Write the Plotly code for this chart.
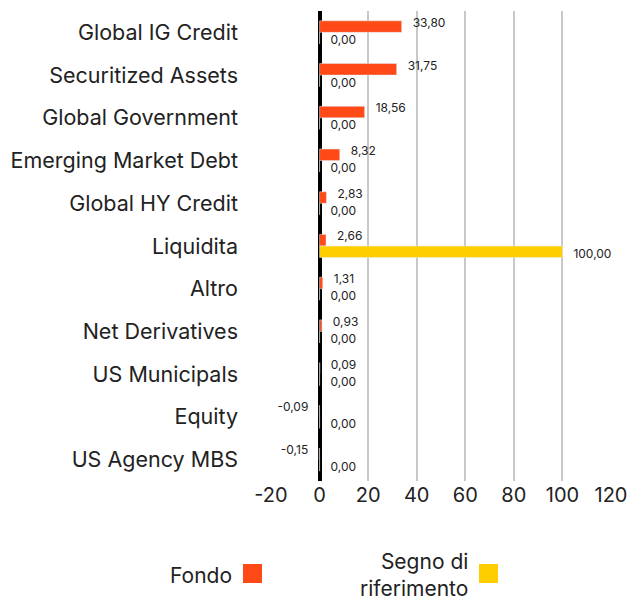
import plotly.graph_objects as go

categories = ["Global IG Credit", "Securitized Assets", "Global Government", "Emerging Market Debt",
              "Global HY Credit", "Liquidita", "Altro", "Net Derivatives", "US Municipals",
              "Equity", "US Agency MBS"]
fondo = [33.80, 31.75, 18.56, 8.32, 2.83, 2.66, 1.31, 0.93, 0.09, -0.09, -0.15]
benchmark = [0.00, 0.00, 0.00, 0.00, 0.00, 100.00, 0.00, 0.00, 0.00, 0.00, 0.00]
series_names = ["Fondo", "Segno di<br>riferimento"]
x_ticks = [-20, 0, 20, 40, 60, 80, 100, 120]
x_tick_labels = ["-20", "0", "20", "40", "60", "80", "100", "120"]

ORANGE = "#FF4A17"
YELLOW = "#FFCE00"
FONT = "Inter, Roboto, sans-serif"
TXT = "#222"


def fmt(v):
    return f"{v:.2f}".replace(".", ",")


pos = list(range(len(categories)))

fig = go.Figure()
fig.add_trace(go.Bar(y=pos, x=fondo, orientation="h", name=series_names[0],
                     marker_color=ORANGE, hoverinfo="x+name"))
fig.add_trace(go.Bar(y=pos, x=benchmark, orientation="h", name=series_names[1],
                     marker_color=YELLOW, hoverinfo="x+name"))

# value labels (placed just above / below the row centre, like the reference)
for vals, shift in ((fondo, -0.2), (benchmark, 0.2)):
    fig.add_trace(go.Scatter(
        y=[p + shift for p in pos], x=vals, mode="markers+text",
        text=[fmt(v) for v in vals],
        textposition=["middle left" if v < 0 else "middle right" for v in vals],
        marker=dict(size=16, opacity=0), textfont=dict(size=12, color=TXT),
        hoverinfo="skip", cliponaxis=False, showlegend=False))

L, R, T, B = 271, 19, 11, 119
W, H = 630, 600
pw, ph = W - L - R, H - T - B


def px(x):
    return (x - L) / pw


def py(y):
    return (H - B - y) / ph


# custom legend (text on the left of the swatch)
shapes = []
annotations = []
legend_items = [
    (series_names[0], ORANGE, 234, 243),
    (series_names[1], YELLOW, 470, 479),
]
for name, color, text_right, sq_left in legend_items:
    annotations.append(dict(text=name, x=px(text_right), y=py(575), xref="paper", yref="paper",
                            xanchor="right", yanchor="middle", align="right", showarrow=False,
                            font=dict(size=21, color=TXT, family=FONT)))
    shapes.append(dict(type="rect", xref="paper", yref="paper",
                       x0=px(sq_left), x1=px(sq_left + 19), y0=py(583), y1=py(564),
                       fillcolor=color, line_width=0))

fig.update_layout(
    width=W, height=H,
    margin=dict(l=L, r=R, t=T, b=B, autoexpand=False),
    barmode="group", bargap=0.46, bargroupgap=0,
    plot_bgcolor="white", paper_bgcolor="white",
    font=dict(family=FONT, color=TXT),
    showlegend=False,
    shapes=shapes, annotations=annotations,
    xaxis=dict(range=[-20, 120], tickvals=x_ticks, ticktext=x_tick_labels,
               showgrid=True, gridcolor="#C8C8C8", gridwidth=2, automargin=False,
               zeroline=True, zerolinecolor="black", zerolinewidth=4,
               tickfont=dict(size=20, color=TXT), ticks="", showline=False),
    yaxis=dict(range=[len(categories) - 0.5, -0.5], tickvals=pos, ticktext=categories,
               tickfont=dict(size=21.5, color=TXT), ticks="", zeroline=False,
               ticklabelstandoff=32, showgrid=False, automargin=False),
)

fig.write_html("out.html", post_script="document.body.style.margin='0';",
               config={"displayModeBar": False})
